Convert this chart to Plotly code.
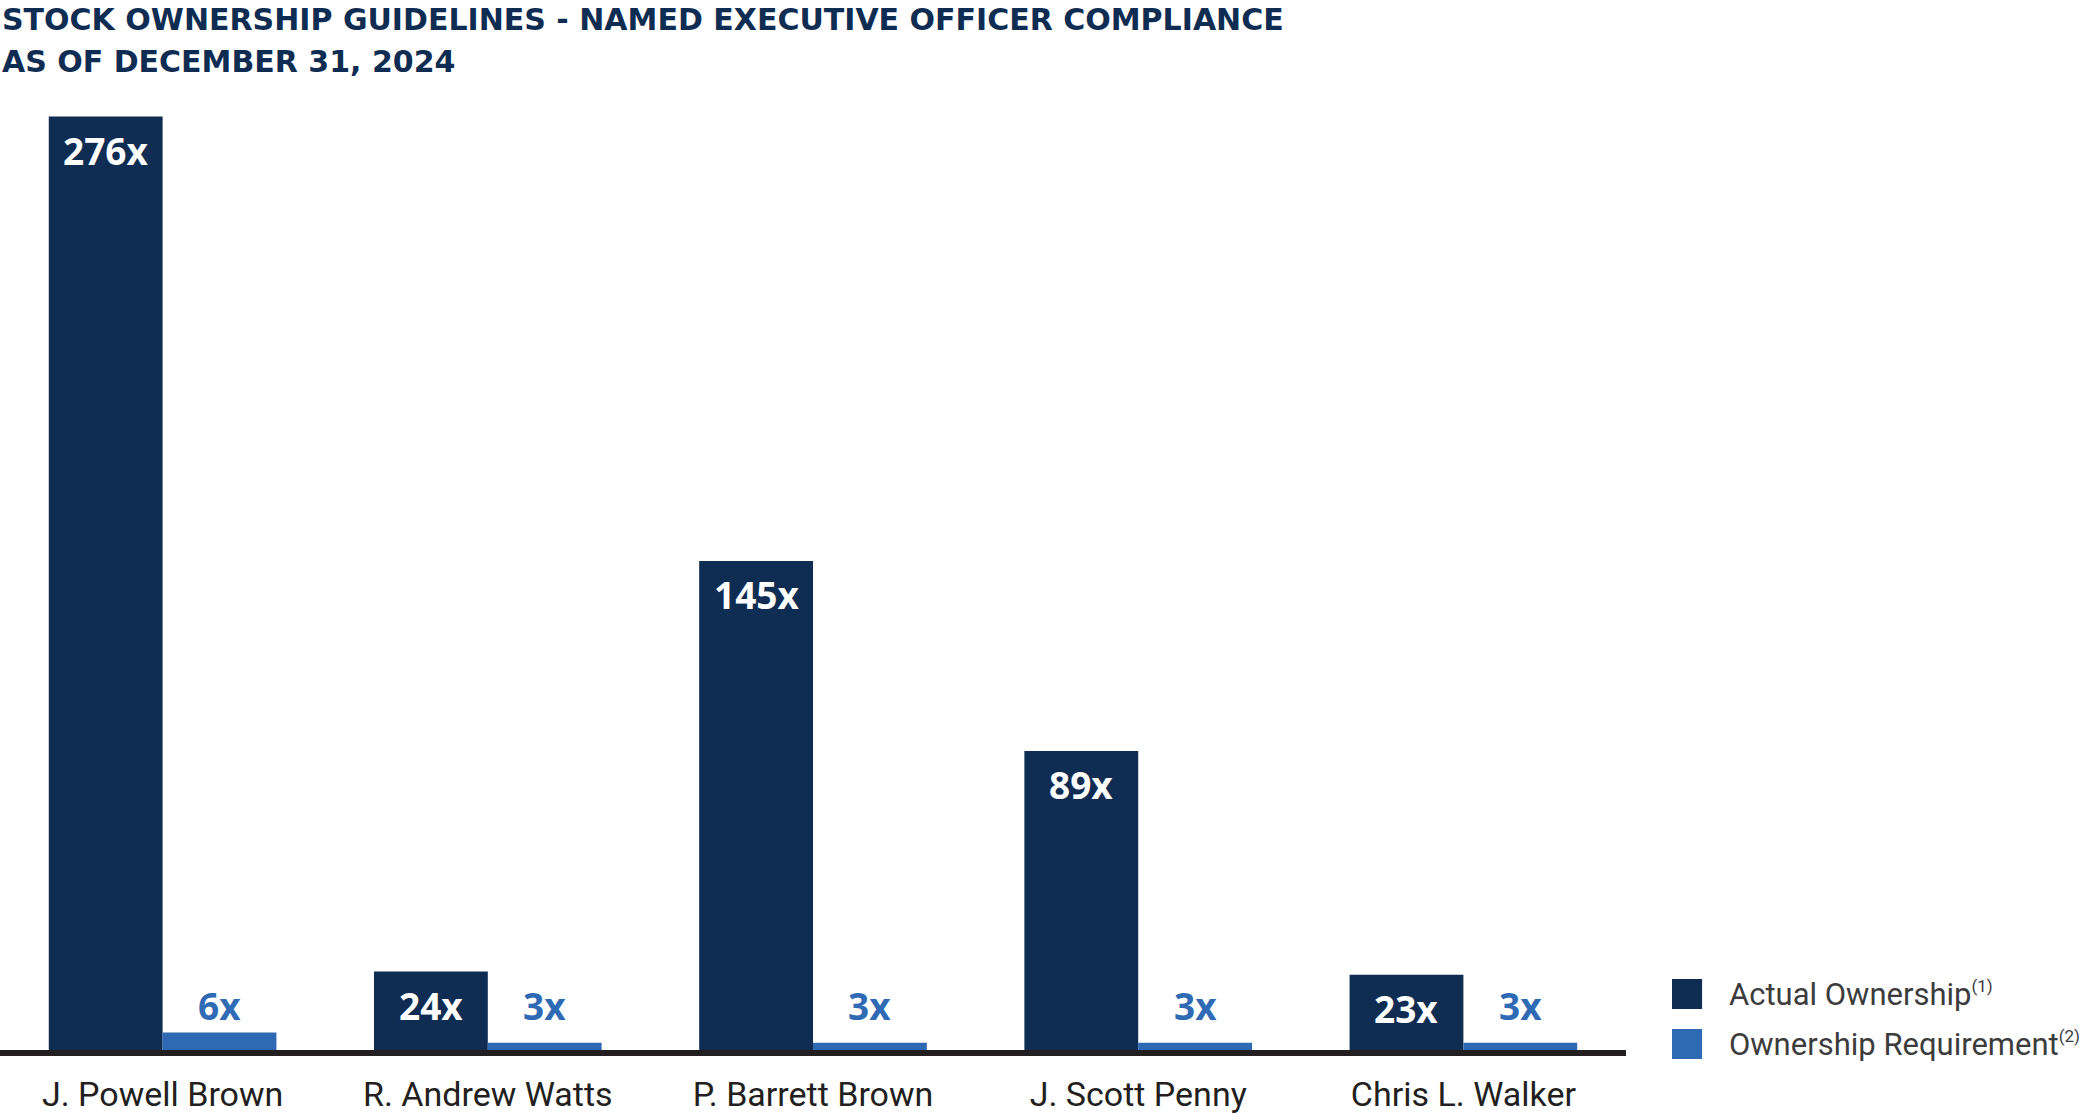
import plotly.graph_objects as go

# ---- data ----
officers = ["J. Powell Brown", "R. Andrew Watts", "P. Barrett Brown", "J. Scott Penny", "Chris L. Walker"]
actual_ownership = [276, 24, 145, 89, 23]
ownership_requirement = [6, 3, 3, 3, 3]
series_names = ["Actual Ownership", "Ownership Requirement"]
footnotes = ["(1)", "(2)"]
title_lines = ["STOCK OWNERSHIP GUIDELINES - NAMED EXECUTIVE OFFICER COMPLIANCE", "AS OF DECEMBER 31, 2024"]

DARK = "#0f2d52"
LIGHT = "#2e6ab4"
AXIS = "#231f20"
LEG_TEXT = "#3c3c3c"

PLOT_TOP = 90
PLOT_BOTTOM = 1058
PLOT_H = PLOT_BOTTOM - PLOT_TOP


def paper_y(py):
    return (PLOT_BOTTOM - py) / PLOT_H


fig = go.Figure()
fig.add_trace(go.Bar(x=officers, y=actual_ownership, name=series_names[0],
                     marker=dict(color=DARK, line=dict(width=0)), showlegend=False))
fig.add_trace(go.Bar(x=officers, y=ownership_requirement, name=series_names[1],
                     marker=dict(color=LIGHT, line=dict(width=0)), showlegend=False))

annotations = []
half = 0.175  # half of each bar's width in category units (bargap 0.3, 2 bars)
for i, (a, r) in enumerate(zip(actual_ownership, ownership_requirement)):
    annotations.append(dict(x=i - half, y=a, xref="x", yref="y", text=f"{a}x", showarrow=False,
                            yshift=-34, yanchor="middle", xanchor="center",
                            font=dict(family="Open Sans", size=37, color="white", weight=700)))
    annotations.append(dict(x=i + half, y=0, xref="x", yref="y", text=f"{r}x", showarrow=False,
                            yshift=47, yanchor="middle", xanchor="center",
                            font=dict(family="Open Sans", size=37, color="#2f6bb5", weight=700)))

# title lines
for line, py in zip(title_lines, [19, 61]):
    annotations.append(dict(xref="paper", yref="paper", x=0, y=paper_y(py), xanchor="left", yanchor="middle",
                            text=line, showarrow=False,
                            font=dict(family="DejaVu Sans", size=30, color=DARK, weight=700)))

# manual legend (large square swatches)
leg_colors = [DARK, LIGHT]
leg_py = [994, 1044]
shapes = [dict(type="line", xref="paper", x0=0, x1=1, yref="y", y0=0, y1=0,
               line=dict(color=AXIS, width=6), layer="above")]
for name, fn, col, py in zip(series_names, footnotes, leg_colors, leg_py):
    shapes.append(dict(type="rect", xref="paper", yref="paper", x0=1.0283, x1=1.0468,
                       y0=paper_y(py + 15), y1=paper_y(py - 15), fillcolor=col, line=dict(width=0)))
    annotations.append(dict(xref="paper", yref="paper", x=1.0621, y=paper_y(py), xanchor="left", yanchor="middle",
                            text=f"{name}<sup><span style='font-size:17px'>{fn}</span></sup>", showarrow=False,
                            font=dict(family="Roboto", size=31, color=LEG_TEXT)))

fig.update_layout(
    width=2100, height=1119,
    margin=dict(l=0, r=474, t=PLOT_TOP, b=1119 - PLOT_BOTTOM, pad=0),
    paper_bgcolor="white", plot_bgcolor="white",
    barmode="group", bargap=0.3, bargroupgap=0,
    xaxis=dict(showgrid=False, showline=False, zeroline=False, ticks="",
               tickfont=dict(family="Roboto", size=34, color=AXIS), ticklabelstandoff=13,
               range=[-0.5, 4.5]),
    yaxis=dict(visible=False, range=[-1.5, 283.8], showgrid=False, zeroline=False),
    annotations=annotations, shapes=shapes,
    showlegend=False,
)

fig.write_html("out.html", config={"displayModeBar": False},
               post_script="document.body.style.margin='0';document.body.style.overflow='hidden';")
